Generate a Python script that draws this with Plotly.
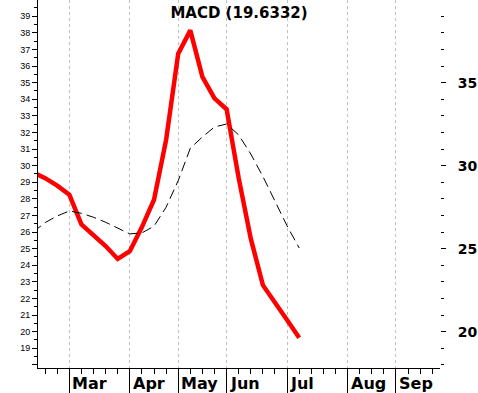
import plotly.graph_objects as go

# ---- data (x = week index, 0 = first week of March) ----
weeks = list(range(-3, 20))
macd = [29.6, 29.25, 28.8, 28.25, 26.46, 25.83, 25.16, 24.38, 24.85, 26.3, 27.95,
        31.55, 36.75, 38.15, 35.35, 34.05, 33.4, 29.25, 25.6, 22.8, 21.7, 20.7, 19.6332]
signal = [26.0, 26.57, 26.97, 27.27, 27.13, 26.89, 26.59, 26.23, 25.89, 25.95, 26.35,
          27.5, 29.1, 31.05, 31.73, 32.33, 32.51, 31.85, 30.7, 29.35, 27.85, 26.37, 25.04]
month_names = ["Mar", "Apr", "May", "Jun", "Jul", "Aug", "Sep"]
month_weeks = [0, 5, 9, 13, 18, 23, 27]
left_ticks = list(range(18, 40))
left_labels = ["" if v == 18 else str(v) for v in left_ticks]
right_ticks = [20, 25, 30, 35]
right_labels = [str(v) for v in right_ticks]
title_text = "MACD (19.6332)"

x_range = [-2.59, 30.64]
y_range = [17.81, 39.98]

fig = go.Figure()
fig.add_trace(go.Scatter(x=weeks, y=macd, mode="lines",
                         line=dict(color="#ff0000", width=4.5), hoverinfo="skip"))
fig.add_trace(go.Scatter(x=weeks, y=signal, mode="lines",
                         line=dict(color="black", width=1, dash="10px,5px"), hoverinfo="skip"))
fig.add_trace(go.Scatter(x=[], y=[], yaxis="y2", hoverinfo="skip"))

for name, w in zip(month_names, month_weeks):
    fig.add_annotation(x=w, y=0, xref="x", yref="paper", text=name, showarrow=False,
                       xanchor="left", yanchor="middle", xshift=1, yshift=-15,
                       font=dict(family="DejaVu Sans", size=16, weight="bold", color="black"))

fig.update_layout(
    width=478, height=393,
    margin=dict(l=38, r=38, t=0, b=25, pad=0, autoexpand=False),
    paper_bgcolor="white", plot_bgcolor="white",
    showlegend=False,
    title=dict(text=title_text, x=0.5, xref="paper", xanchor="center",
               y=1 - 13 / 393, yref="container", yanchor="middle",
               font=dict(family="DejaVu Sans", size=15, weight="bold", color="black")),
    xaxis=dict(range=x_range, tickmode="array", tickvals=month_weeks, showticklabels=False,
               ticks="outside", ticklen=25, tickcolor="black", tickwidth=1,
               showgrid=True, gridcolor="#c0c0c0", griddash="3px,3px", gridwidth=1,
               showline=True, linecolor="black", linewidth=1, zeroline=False,
               minor=dict(tickmode="linear", tick0=0, dtick=1, ticks="outside", ticklen=5,
                          tickcolor="black", tickwidth=1, showgrid=False)),
    yaxis=dict(range=y_range, tickmode="array", tickvals=left_ticks, ticktext=left_labels,
               ticks="outside", ticklen=5, tickcolor="black", tickwidth=1,
               showline=True, linecolor="black", linewidth=1, showgrid=False, zeroline=False,
               tickfont=dict(family="Liberation Sans", size=9, color="black"),
               minor=dict(tickmode="linear", tick0=0, dtick=0.5, ticks="outside", ticklen=3,
                          tickcolor="black", tickwidth=1, showgrid=False)),
    yaxis2=dict(range=y_range, overlaying="y", side="right", anchor="x",
                tickmode="array", tickvals=right_ticks, ticktext=right_labels,
                ticks="outside", ticklen=5, tickcolor="black", tickwidth=1,
                ticklabelstandoff=9,
                showline=False, showgrid=False, zeroline=False,
                tickfont=dict(family="DejaVu Sans", size=14, weight="bold", color="black"),
                minor=dict(tickmode="linear", tick0=0, dtick=1, ticks="outside", ticklen=3,
                           tickcolor="black", tickwidth=1, showgrid=False)),
)

fig.write_html("out.html", config={"displayModeBar": False},
               post_script="document.body.style.margin='0';document.body.style.padding='0';")
